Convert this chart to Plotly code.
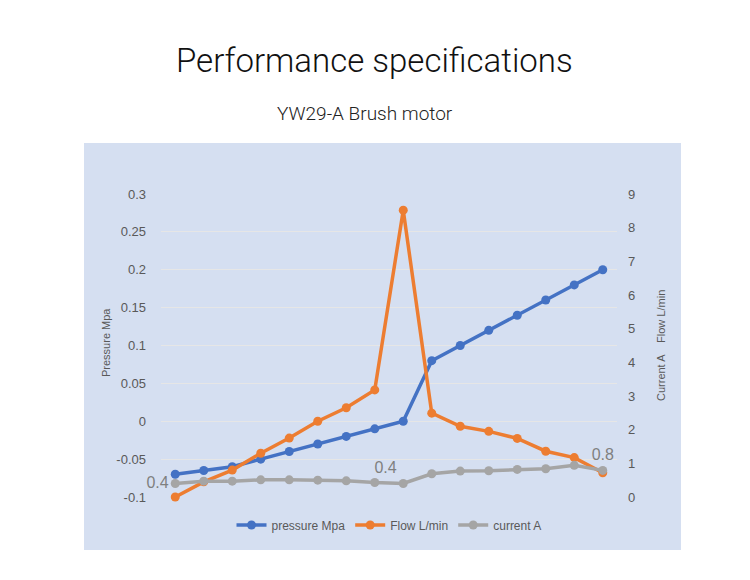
import plotly.graph_objects as go

categories = list(range(1, 17))
pressure = [-0.07, -0.065, -0.06, -0.05, -0.04, -0.03, -0.02, -0.01, 0.0,
            0.08, 0.10, 0.12, 0.14, 0.16, 0.18, 0.20]
flow = [0.0, 0.45, 0.8, 1.3, 1.75, 2.25, 2.65, 3.18, 8.52,
        2.49, 2.1, 1.95, 1.74, 1.36, 1.17, 0.72]
current = [0.40, 0.47, 0.47, 0.51, 0.51, 0.50, 0.48, 0.43, 0.40,
           0.69, 0.77, 0.78, 0.82, 0.84, 0.94, 0.79]
label_idx = [0, 8, 15]
left_ticks = [-0.1, -0.05, 0, 0.05, 0.1, 0.15, 0.2, 0.25, 0.3]
left_ticktext = ["-0.1", "-0.05", "0", "0.05", "0.1", "0.15", "0.2", "0.25", "0.3"]
right_ticks = list(range(0, 10))

W, H = 750, 580
L, R, T, B = 161, 617, 194, 497
pw, ph = R - L, B - T

def px(x):
    return (x - L) / pw

def py(y):
    return (B - y) / ph

gray_text = "#595959"
font_fam = "Liberation Sans"

cur_text = [f"{v:.1f}" if i in label_idx else "" for i, v in enumerate(current)]
cur_pos = ["middle left" if i == 0 else ("top left" if i == 8 else "top center")
           for i in range(len(current))]

fig = go.Figure()
fig.add_trace(go.Scatter(
    x=categories, y=pressure, name="pressure Mpa", mode="lines+markers",
    line=dict(color="#4472C4", width=3.5), marker=dict(size=9, color="#4472C4"),
    cliponaxis=False, yaxis="y"))
fig.add_trace(go.Scatter(
    x=categories, y=flow, name="Flow L/min", mode="lines+markers",
    line=dict(color="#ED7D31", width=3.5), marker=dict(size=9, color="#ED7D31"),
    cliponaxis=False, yaxis="y2"))
fig.add_trace(go.Scatter(
    x=categories, y=current, name="current A", mode="lines+markers+text",
    line=dict(color="#A5A5A5", width=3.5), marker=dict(size=9, color="#A5A5A5"),
    text=cur_text, textposition=cur_pos,
    textfont=dict(size=16, color="#7F7F7F", family=font_fam),
    cliponaxis=False, yaxis="y2"))

fig.update_layout(
    width=W, height=H,
    margin=dict(l=L, r=W - R, t=T, b=H - B),
    paper_bgcolor="white", plot_bgcolor="rgba(0,0,0,0)",
    font=dict(family=font_fam, color=gray_text),
    showlegend=True,
    legend=dict(orientation="h", x=0.5, xanchor="center", y=py(525), yanchor="middle",
                font=dict(size=12, color=gray_text), bgcolor="rgba(0,0,0,0)",
                tracegroupgap=0),
    xaxis=dict(range=[0.5, 16.5], showgrid=False, showticklabels=False, zeroline=False,
               showline=False, ticks=""),
    yaxis=dict(range=[-0.1, 0.3], tickvals=left_ticks, ticktext=left_ticktext,
               showgrid=True, gridcolor="#E6E6E6", gridwidth=1, zeroline=False,
               tickfont=dict(size=13, color=gray_text), ticks="", ticklabelstandoff=14),
    yaxis2=dict(range=[0, 9], tickvals=right_ticks, overlaying="y", side="right",
                showgrid=False, zeroline=False,
                tickfont=dict(size=13, color=gray_text), ticks="", ticklabelstandoff=10),
    shapes=[dict(type="rect", xref="paper", yref="paper",
                 x0=px(84), x1=px(681), y0=py(550), y1=py(143),
                 fillcolor="#D5DFF1", line=dict(width=0), layer="below")],
    annotations=[
        dict(text="Performance specifications", xref="paper", yref="paper",
             x=px(374), y=py(60), showarrow=False, xanchor="center", yanchor="middle",
             font=dict(size=33, color="#111111", family="Roboto", weight=300)),
        dict(text="YW29-A Brush motor", xref="paper", yref="paper",
             x=px(365), y=py(113), showarrow=False, xanchor="center", yanchor="middle",
             font=dict(size=19, color="#222222", family="Roboto", weight=300)),
        dict(text="Pressure Mpa", xref="paper", yref="paper", textangle=-90,
             x=px(106), y=py(343), showarrow=False, xanchor="center", yanchor="middle",
             font=dict(size=11, color=gray_text)),
        dict(text="Current A    Flow L/min", xref="paper", yref="paper", textangle=-90,
             x=px(661), y=py(346), showarrow=False, xanchor="center", yanchor="middle",
             font=dict(size=11, color=gray_text)),
    ],
)

fig.write_html("out.html")
